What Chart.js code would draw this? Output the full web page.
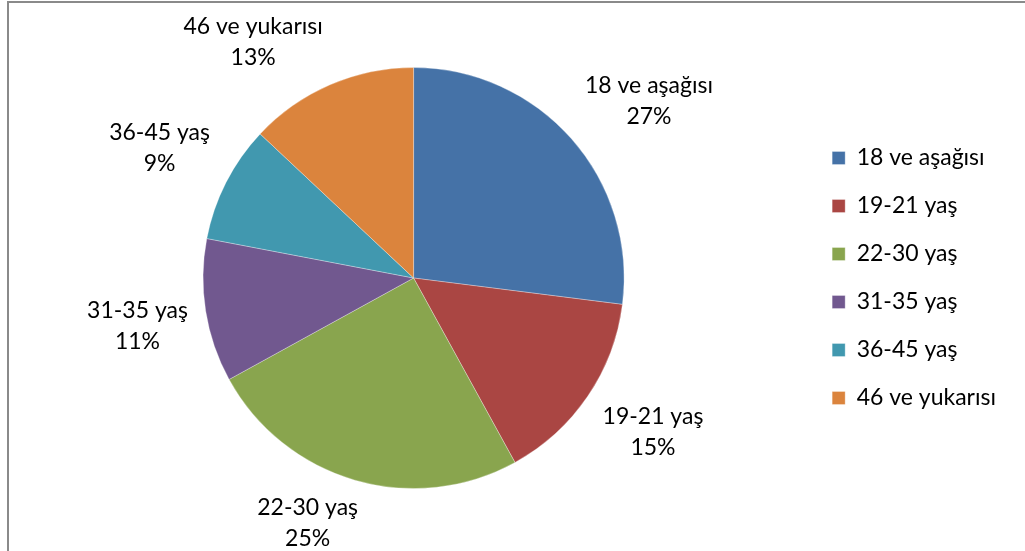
<!DOCTYPE html>
<html>
<head>
<meta charset="utf-8">
<script src="https://cdn.jsdelivr.net/npm/chart.js@4/dist/chart.umd.min.js"></script>
<style>
    body { margin: 0; background: #fff; }
    #wrap { position: relative; width: 1025px; height: 551px; }
    #frame { position: absolute; left: 7px; top: 1px; right: 0; bottom: 0;
             border-top: 2px solid #8a8a8a; border-left: 2px solid #8a8a8a; pointer-events: none; }
    canvas { position: absolute; left: 0; top: 0; }
</style>
</head>
<body>
<div id="wrap">
    <canvas id="myChart" width="1025" height="551"></canvas>
    <div id="frame"></div>
</div>
<script>
    var labels = ['18 ve aşağısı', '19-21 yaş', '22-30 yaş', '31-35 yaş', '36-45 yaş', '46 ve yukarısı'];
    var percents = [27, 15, 25, 11, 9, 13];
    var colors = ['#4572A7', '#AA4643', '#89A54E', '#71588F', '#4198AF', '#DB843D'];

    var fontFamily = 'Lato, "Open Sans", sans-serif';
    var fontSize = 23;

    // labels outside each slice: name on first line, percent below
    var sliceLabels = {
        id: 'sliceLabels',
        afterDatasetsDraw: function(chart) {
            var ctx = chart.ctx;
            var meta = chart.getDatasetMeta(0);
            ctx.save();
            ctx.font = fontSize + 'px ' + fontFamily;
            ctx.fillStyle = '#000';
            ctx.textAlign = 'center';
            ctx.textBaseline = 'middle';
            meta.data.forEach(function(arc, i) {
                var mid = (arc.startAngle + arc.endAngle) / 2;
                var dx = Math.cos(mid), dy = Math.sin(mid);
                var r = arc.outerRadius + 18;
                var ax = arc.x + dx * r, ay = arc.y + dy * r;
                var line1 = labels[i], line2 = percents[i] + '%';
                var hw = Math.max(ctx.measureText(line1).width, ctx.measureText(line2).width) / 2;
                var hh = 26;
                var sx = Math.max(-1, Math.min(1, dx * 3));
                var sy = Math.max(-1, Math.min(1, dy * 3));
                var cx = ax + sx * hw, cy = ay + sy * hh;
                ctx.fillText(line1, cx, cy - 15.5);
                ctx.fillText(line2, cx, cy + 15.5);
            });
            ctx.restore();
        }
    };

    var ctx = document.getElementById('myChart').getContext('2d');

    var config = {
        type: 'pie',
        data: {
            labels: labels,
            datasets: [{
                data: percents,
                backgroundColor: colors,
                borderColor: 'rgba(255,255,255,0.3)',
                borderWidth: 1
            }]
        },
        options: {
            responsive: false,
            animation: false,
            layout: {
                padding: { top: 67, bottom: 62, left: 20, right: 19 }
            },
            plugins: {
                tooltip: { enabled: false },
                legend: {
                    position: 'right',
                    labels: {
                        boxWidth: 13,
                        boxHeight: 13,
                        padding: 25,
                        color: '#000',
                        font: { family: fontFamily, size: fontSize }
                    }
                }
            }
        },
        plugins: [sliceLabels]
    };

    var myChart = new Chart(ctx, config);
</script>
</body>
</html>
